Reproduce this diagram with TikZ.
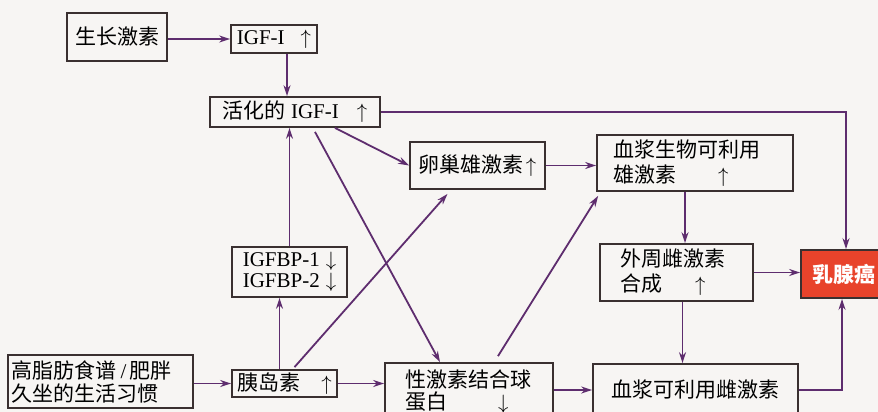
\documentclass[tikz,border=0pt]{standalone}
\usepackage{fontspec}
\setmainfont{Liberation Serif}
\newfontfamily\cjk{Noto Sans CJK SC}
\usetikzlibrary{arrows.meta,calc}
\definecolor{arrowc}{HTML}{5E2D6E}
\definecolor{boxc}{HTML}{3A3030}
\definecolor{cancer}{HTML}{E8432B}
\definecolor{paper}{HTML}{F7F5F3}
\newcommand\zh[1]{{\cjk #1}}
\newcommand\myup{$\uparrow$}
\newcommand\mydn{$\downarrow$}
\begin{document}
\begin{tikzpicture}[x=1pt,y=-1pt,
  bx/.style={draw=boxc, line width=1.8pt, inner ysep=0pt, inner xsep=0pt, font=\fontsize{21}{25}\selectfont},
  arr/.style={draw=arrowc, line width=1.8pt, -{Stealth[length=11pt,width=7pt]}}]
\fill[paper] (0,0) rectangle (878,412);
\useasboundingbox (0,0) rectangle (878,412);

% boxes
\node[bx, minimum width=100pt, minimum height=48pt] (gh) at (117,37) {\zh{生长激素}};
\node[bx, minimum width=86pt, minimum height=28pt] (igf) at (274,39) {IGF-I\hspace{16pt}\myup};
\node[bx, minimum width=170pt, minimum height=30pt] (act) at (295,112) {\zh{活化的} IGF-I\hspace{18pt}\myup};
\node[bx, minimum width=135pt, minimum height=47pt] (ova) at (477.5,165.5) {\zh{卵巢雄激素}\hspace{2pt}\myup};
\node[bx, align=left, text width=164pt, inner xsep=16pt, minimum height=56pt] (bioA) at (695,163)
  {\zh{血浆生物可利用}\\\zh{雄激素}\hspace{42pt}\myup};
\node[bx, align=left, text width=113pt, inner xsep=20pt, minimum height=57pt] (per) at (676.5,272.5)
  {\zh{外周雌激素}\\\zh{合成}\hspace{33pt}\myup};
\node[bx, fill=cancer, text=white, minimum width=85pt, minimum height=48pt] (bc) at (843.5,274) {\bfseries\zh{乳腺癌}};
\node[bx, align=center, minimum width=115pt, minimum height=50pt, font=\fontsize{21}{21}\selectfont] (bp) at (289.5,272)
  {IGFBP-1\hspace{6pt}\mydn\\IGFBP-2\hspace{6pt}\mydn};
\node[bx, align=left, text width=177pt, inner xsep=4pt, minimum height=53pt, font=\fontsize{21}{23}\selectfont] (diet) at (100.5,381.5)
  {\zh{高脂肪食谱}\,/\,\zh{肥胖}\\\zh{久坐的生活习惯}};
\node[bx, minimum width=105pt, minimum height=27pt] (ins) at (284.5,383.5) {\zh{胰岛素}\hspace{21pt}\myup};
\node[bx, align=left, text width=128pt, inner xsep=20pt, minimum height=57pt, font=\fontsize{21}{22}\selectfont] (shbg) at (469,391.5)
  {\zh{性激素结合球}\\\zh{蛋白}\hspace{51pt}\mydn};
\node[bx, minimum width=205pt, minimum height=52pt] (pla) at (695.5,390) {\zh{血浆可利用雌激素}};

% connectors
\draw[arr] (gh.east |- igf.west) -- (igf.west);
\draw[arr] ([xshift=13pt]igf.south) -- ([xshift=13pt]igf.south |- act.north);
\draw[arr] (bp.north) -- (bp.north |- act.south);
\draw[arr] ([xshift=-5pt]ins.north) -- ([xshift=-5pt]ins.north |- bp.south);
\draw[arr] (act.east) -| ([xshift=2.5pt]bc.north);
\draw[arr] ([xshift=40pt]act.south) -- (ova.west);
\draw[arr] ([xshift=20pt,yshift=-4pt]act.south) -- ([xshift=-29pt]shbg.north);
\draw[arr] ([xshift=10pt,yshift=2pt]ins.north) -- ([xshift=-30pt,yshift=-4pt]ova.south);
\draw[arr] ([xshift=29pt,yshift=6pt]shbg.north) -- ([xshift=2pt,yshift=-4pt]bioA.south west);
\draw[arr] (ova.east) -- (ova.east -| bioA.west);
\draw[arr] ([xshift=-10pt]bioA.south) -- ([xshift=-10pt]bioA.south |- per.north);
\draw[arr] (per.east) -- (per.east -| bc.west);
\draw[arr] ([xshift=6pt]per.south) -- ([xshift=6pt]per.south |- pla.north);
\draw[arr] (shbg.east |- pla.west) -- (pla.west);
\draw[arr] (diet.east |- ins.west) -- (ins.west);
\draw[arr] (ins.east) -- (ins.east -| shbg.west);
\draw[arr] (pla.east) -| ([xshift=-1.5pt]bc.south);
\end{tikzpicture}
\end{document}
